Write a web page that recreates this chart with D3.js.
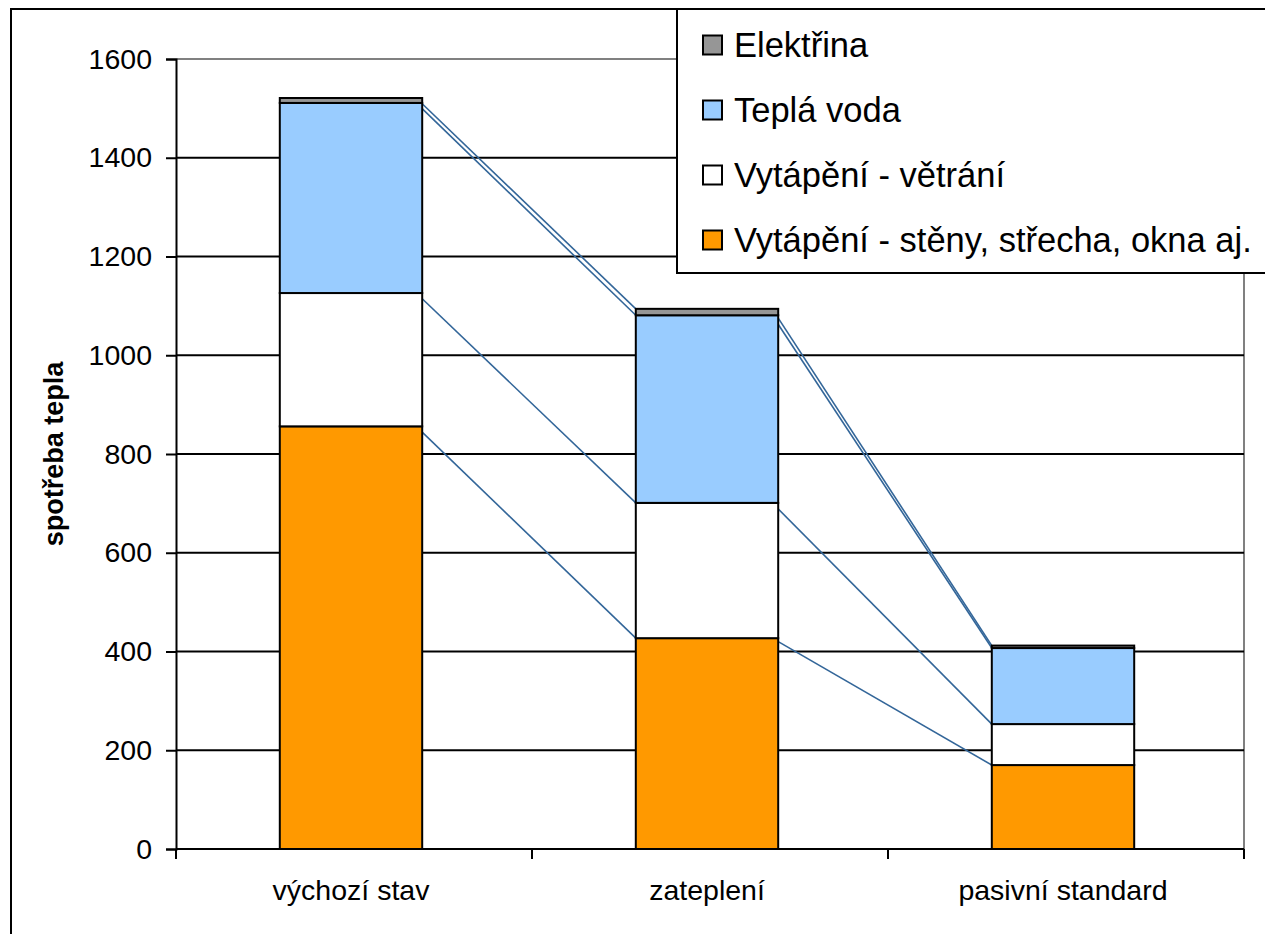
<!DOCTYPE html>
<html>
<head>
<meta charset="utf-8">
<script src="https://cdn.jsdelivr.net/npm/d3@7"></script>
<style>
  html, body { margin: 0; padding: 0; background: #fff; }
  svg { display: block; font-family: "Liberation Sans", Arial, sans-serif; }
</style>
</head>
<body>
<svg id="chart" width="1265" height="934"></svg>
<script>
// ---- data ----
const categories = ["výchozí stav", "zateplení", "pasivní standard"];
const seriesNames = ["Vytápění - stěny, střecha, okna aj.", "Vytápění - větrání", "Teplá voda", "Elektřina"];
const seriesColors = ["#FF9900", "#FFFFFF", "#99CCFF", "#969696"];
const wallsValues = [856, 427, 170];
const ventilationValues = [270, 274, 83];
const hotWaterValues = [385, 380, 154];
const electricityValues = [10, 13, 5];
const yTicks = [0, 200, 400, 600, 800, 1000, 1200, 1400, 1600];
const legendOrder = [3, 2, 1, 0];

const seriesValues = [wallsValues, ventilationValues, hotWaterValues, electricityValues];

const svg = d3.select("#chart");
const W = 1265, H = 934;

// outer chart border
svg.append("rect").attr("x", 11).attr("y", 9).attr("width", W + 20).attr("height", H + 20)
  .attr("fill", "#fff").attr("stroke", "#000").attr("stroke-width", 2);

const plot = { left: 176, right: 1244, top: 59, bottom: 849 };

const x = d3.scaleBand().domain(categories).range([plot.left - 3, plot.right - 3])
  .paddingInner(0.6).paddingOuter(0.3);
const y = d3.scaleLinear().domain([0, 1600]).range([plot.bottom, plot.top]);

// plot area border (gray top & right)
svg.append("line").attr("x1", plot.left).attr("x2", plot.right).attr("y1", plot.top).attr("y2", plot.top)
  .attr("stroke", "#808080").attr("stroke-width", 2);
svg.append("line").attr("x1", plot.right).attr("x2", plot.right).attr("y1", plot.top).attr("y2", plot.bottom)
  .attr("stroke", "#808080").attr("stroke-width", 2);

// gridlines
svg.append("g").selectAll("line").data(yTicks.filter(t => t > 0 && t < 1600)).join("line")
  .attr("x1", plot.left).attr("x2", plot.right)
  .attr("y1", d => y(d)).attr("y2", d => y(d))
  .attr("stroke", "#000").attr("stroke-width", 2);

// stacked data
const rows = categories.map((c, i) => {
  const r = { cat: c };
  seriesNames.forEach((s, j) => r[s] = seriesValues[j][i]);
  return r;
});
const stacked = d3.stack().keys(seriesNames)(rows);

// series lines (connecting segment tops between bars)
const bw = x.bandwidth();
const sl = svg.append("g");
stacked.forEach(layer => {
  for (let i = 0; i < categories.length - 1; i++) {
    sl.append("line")
      .attr("x1", x(categories[i]) + bw - 6)
      .attr("y1", y(layer[i][1]))
      .attr("x2", x(categories[i + 1]))
      .attr("y2", y(layer[i + 1][1]))
      .attr("stroke", "#336699").attr("stroke-width", 1.6);
  }
});

// bars
stacked.forEach((layer, j) => {
  svg.append("g").selectAll("rect").data(layer).join("rect")
    .attr("x", (d, i) => x(categories[i]))
    .attr("width", bw)
    .attr("y", d => y(d[1]))
    .attr("height", d => y(d[0]) - y(d[1]))
    .attr("fill", seriesColors[j])
    .attr("stroke", "#000").attr("stroke-width", 2);
});

// y axis
const yAxis = d3.axisLeft(y).tickValues(yTicks).tickSize(10).tickPadding(14).tickFormat(d3.format("d"));
const gy = svg.append("g").attr("transform", `translate(${plot.left},0)`).call(yAxis);
gy.select(".domain").attr("stroke", "#000").attr("stroke-width", 2);
gy.selectAll(".tick line").attr("stroke", "#000").attr("stroke-width", 2);
gy.selectAll(".tick text").attr("font-size", 28.5).attr("fill", "#000")
  .attr("font-family", "Liberation Sans, Arial, sans-serif");

// x axis
const step = x.step();
const boundaries = [plot.left].concat(categories.map((c, i) => plot.left + step * (i + 1)));
svg.append("line").attr("x1", plot.left).attr("x2", plot.right).attr("y1", plot.bottom).attr("y2", plot.bottom)
  .attr("stroke", "#000").attr("stroke-width", 2);
svg.append("g").selectAll("line").data(boundaries).join("line")
  .attr("x1", d => d).attr("x2", d => d).attr("y1", plot.bottom).attr("y2", plot.bottom + 10)
  .attr("stroke", "#000").attr("stroke-width", 2);
svg.append("g").selectAll("text").data(categories).join("text")
  .attr("x", d => x(d) + bw / 2).attr("y", 900)
  .attr("text-anchor", "middle").attr("font-size", 28.5).attr("fill", "#000")
  .text(d => d);

// y title
svg.append("text")
  .attr("transform", `translate(63,${(plot.top + plot.bottom) / 2}) rotate(-90)`)
  .attr("text-anchor", "middle").attr("font-size", 27).attr("font-weight", "bold")
  .text("spotřeba tepla");

// legend
const lg = svg.append("g");
lg.append("rect").attr("x", 677).attr("y", 9).attr("width", 700).attr("height", 264)
  .attr("fill", "#fff").attr("stroke", "#000").attr("stroke-width", 2);
legendOrder.forEach((si, k) => {
  const cy = 45 + k * 65;
  lg.append("rect").attr("x", 703).attr("y", cy - 9.5).attr("width", 19).attr("height", 19)
    .attr("fill", seriesColors[si]).attr("stroke", "#000").attr("stroke-width", 2);
  lg.append("text").attr("x", 734).attr("y", cy).attr("dy", "0.36em")
    .attr("font-size", 34.5).attr("fill", "#000").text(seriesNames[si]);
});
</script>
</body>
</html>
